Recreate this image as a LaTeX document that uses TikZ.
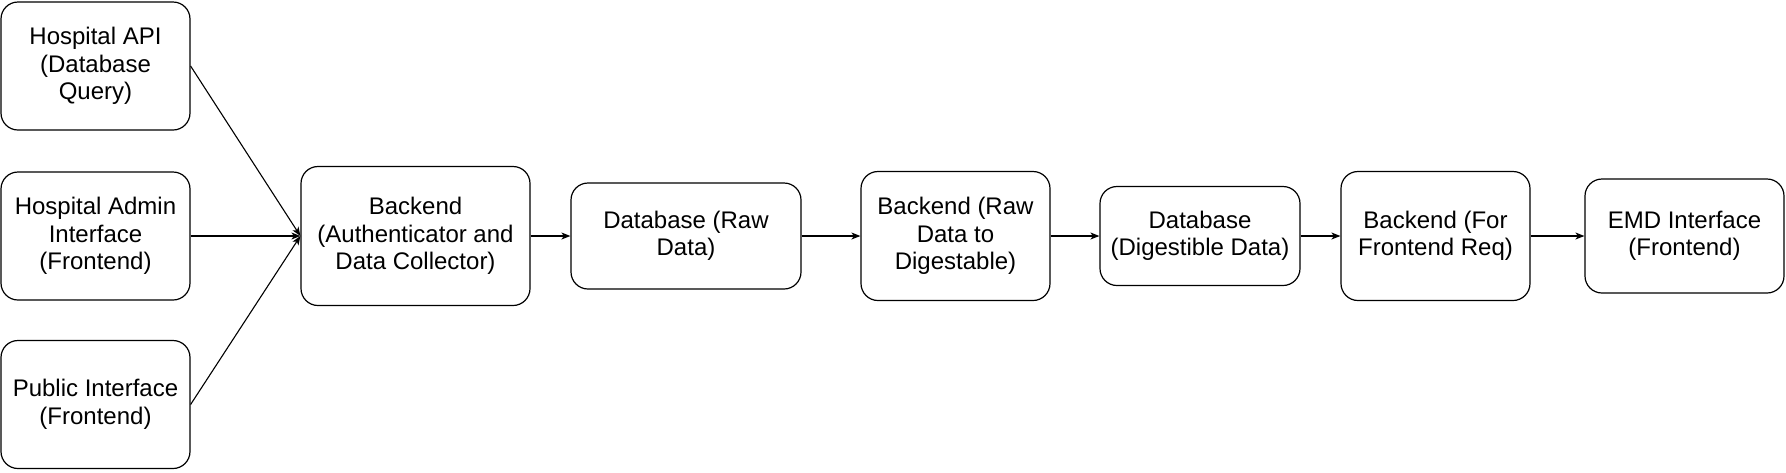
\documentclass[tikz,border=0pt]{standalone}
\usepackage{fontspec}
\setmainfont{Liberation Sans}
\usepackage{tikz}
\usetikzlibrary{arrows.meta}

\tikzset{
  blockbox/.style={draw,line width=1.2pt,rounded corners=17pt,align=center,inner sep=0pt,
    font=\fontsize{24}{27.5}\selectfont},
  flow/.style={line width=1.1pt,-{Stealth[length=9pt,width=7pt,inset=2.5pt]}}
}

\begin{document}
\begin{tikzpicture}[x=1pt,y=-1pt]
\useasboundingbox (0,0) rectangle (1786,472);
% Left: the three sources
\node[blockbox,minimum width=189pt,minimum height=128pt] (api) at (95.5,66) {Hospital API\\(Database\\Query)};
\node[blockbox,minimum width=189pt,minimum height=128pt] (admin) at (95.5,236) {Hospital Admin\\Interface\\(Frontend)};
\node[blockbox,minimum width=189pt,minimum height=128pt] (public) at (95.5,404.5) {Public Interface\\(Frontend)};

% Middle and right: processing chain
\node[blockbox,minimum width=229pt,minimum height=139pt] (collector) at (415.5,236) {Backend\\(Authenticator and\\Data Collector)};
\node[blockbox,minimum width=230pt,minimum height=106pt] (rawdb) at (686,236) {Database (Raw\\Data)};
\node[blockbox,minimum width=189pt,minimum height=129pt] (converter) at (955.5,236) {Backend (Raw\\Data to\\Digestable)};
\node[blockbox,minimum width=200pt,minimum height=99pt] (digestdb) at (1200,236) {Database\\(Digestible Data)};
\node[blockbox,minimum width=189pt,minimum height=129pt] (server) at (1435.5,236) {Backend (For\\Frontend Req)};
\node[blockbox,minimum width=199pt,minimum height=114pt] (emd) at (1684.5,236) {EMD Interface\\(Frontend)};

% Connectors
\draw[flow] (api.east) -- (collector.west);
\draw[flow] (admin.east) -- (collector.west);
\draw[flow] (public.east) -- (collector.west);
\draw[flow] (collector) -- (rawdb);
\draw[flow] (rawdb) -- (converter);
\draw[flow] (converter) -- (digestdb);
\draw[flow] (digestdb) -- (server);
\draw[flow] (server) -- (emd);
\end{tikzpicture}
\end{document}
